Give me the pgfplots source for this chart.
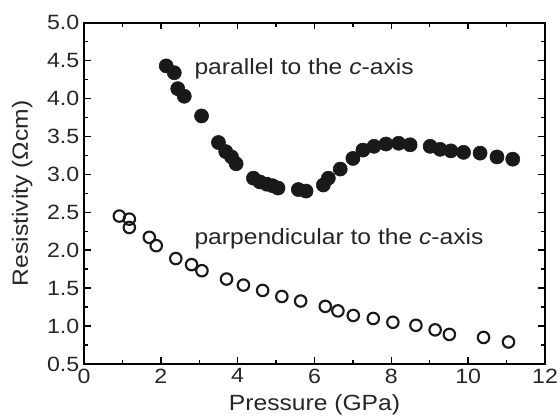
\documentclass[border=0pt]{standalone}
\usepackage{fontspec}
\setmainfont{Liberation Sans}[FakeStretch=1.12]
\usepackage{pgfplots}
\pgfplotsset{compat=1.18}

% parallel to the c-axis
\pgfplotstableread{
x y
2.14 4.43
2.35 4.34
2.44 4.13
2.61 4.03
3.06 3.77
3.50 3.42
3.69 3.30
3.84 3.23
3.96 3.14
4.41 2.95
4.58 2.90
4.76 2.87
4.91 2.85
5.05 2.82
5.58 2.80
5.78 2.78
6.23 2.86
6.36 2.95
6.67 3.07
7.00 3.21
7.26 3.32
7.55 3.37
7.86 3.40
8.19 3.41
8.49 3.39
9.01 3.37
9.27 3.33
9.55 3.31
9.88 3.29
10.31 3.28
10.75 3.23
11.16 3.20
}\parallel

% perpendicular to the c-axis
\pgfplotstableread{
x y
0.92 2.45
1.18 2.41
1.18 2.30
1.70 2.17
1.88 2.06
2.39 1.89
2.80 1.81
3.07 1.73
3.71 1.62
4.15 1.54
4.65 1.47
5.15 1.39
5.64 1.33
6.28 1.26
6.61 1.20
7.01 1.14
7.53 1.10
8.04 1.05
8.64 1.01
9.14 0.95
9.51 0.89
10.40 0.85
11.05 0.79
}\perpend

\begin{document}
\begin{tikzpicture}
\path[use as bounding box] (-63pt,-39pt) rectangle (357pt,273pt);
\begin{axis}[
  at={(0,0)}, anchor=south west,
  scale only axis, width=345.75pt, height=256pt,
  xmin=0, xmax=12, ymin=0.5, ymax=5.0,
  xtick={0,2,4,6,8,10,12}, minor x tick num=1,
  ytick={0.5,1.0,1.5,2.0,2.5,3.0,3.5,4.0,4.5,5.0}, minor y tick num=1,
  xtick pos=both, ytick pos=both,
  xticklabel pos=lower, yticklabel pos=left,
  tick align=inside,
  major tick length=5pt, minor tick length=3pt,
  axis line style={line width=1.3pt},
  every tick/.style={black, line width=1.1pt},
  yticklabel style={/pgf/number format/.cd, fixed, fixed zerofill, precision=1},
  /pgf/number format/assume math mode=true,
  tick label style={font=\fontsize{15.5}{18}\selectfont, text=black!85},
  label style={font=\fontsize{16.5}{19}\selectfont, text=black!85},
  xlabel={Pressure (GPa)},
  ylabel={Resistivity (Ωcm)},
  xlabel style={at={(axis description cs:0.5,-0.137)}, anchor=base},
  ylabel style={at={(axis description cs:-0.134,0.5)}, anchor=center, rotate=0},
  clip=false,
]
\addplot[only marks, mark=*, mark size=5.3pt, black, mark options={fill=black!90, draw=black!90}]
  table[x=x, y=y] {\parallel};
\addplot[only marks, mark=o, mark size=4.3pt, black, mark options={line width=1.6pt, draw=black!90}]
  table[x=x, y=y] {\perpend};
\node[anchor=base west, font=\fontsize{16.5}{19}\selectfont, text=black!85, inner sep=0pt]
  at (axis cs:2.87,4.32) {parallel to the \textit{c}-axis};
\node[anchor=base west, font=\fontsize{16.5}{19}\selectfont, text=black!85, inner sep=0pt]
  at (axis cs:2.87,2.08) {parpendicular to the \textit{c}-axis};
\end{axis}
\end{tikzpicture}
\end{document}
